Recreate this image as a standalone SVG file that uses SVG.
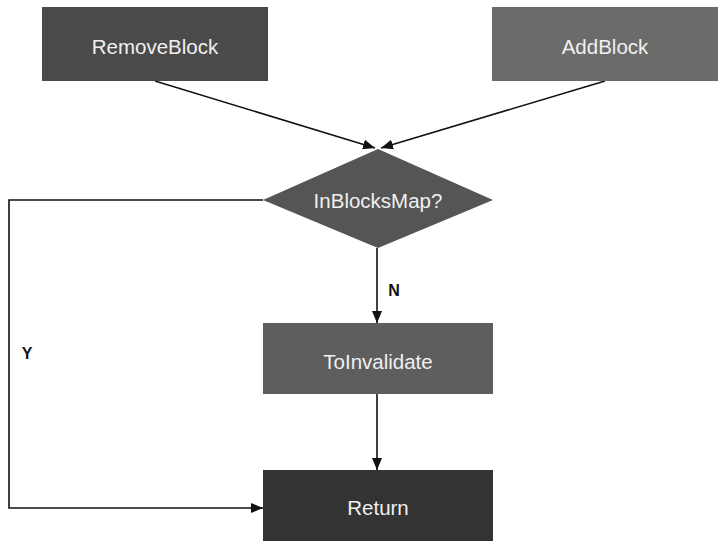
<svg xmlns="http://www.w3.org/2000/svg" width="727" height="550" viewBox="0 0 727 550">
<style>
.lbl{font-family:"Liberation Sans",Arial,sans-serif;font-size:20.5px;fill:#f0f0f0;text-anchor:middle;dominant-baseline:central}
.yn{font-family:"Liberation Sans",Arial,sans-serif;font-size:16px;font-weight:bold;fill:#111;text-anchor:middle;dominant-baseline:central}
.edge{fill:none;stroke:#111;stroke-width:1.6}
</style>
<defs>
<marker id="a" viewBox="0 0 12 10" refX="12" refY="5" markerWidth="12" markerHeight="10" orient="auto" markerUnits="userSpaceOnUse">
<path d="M0,0 L12,5 L0,10 z" fill="#111"/>
</marker>
</defs>
<rect width="727" height="550" fill="#fff"/>
<g id="connectors">
<path class="edge" d="M155,81 L375,148" marker-end="url(#a)"/>
<path class="edge" d="M605,81 L381,148" marker-end="url(#a)"/>
<path class="edge" d="M377,248 L377,323" marker-end="url(#a)"/>
<path class="edge" d="M377,394 L377,470" marker-end="url(#a)"/>
<path class="edge" d="M263,200 L9,200 L9,508 L263,508" marker-end="url(#a)"/>
<text class="yn" x="394" y="290">N</text>
<text class="yn" x="27" y="353">Y</text>
</g>
<g id="RemoveBlock">
<rect x="42" y="7" width="226" height="74" fill="#4a4a4a"/>
<text class="lbl" x="155" y="46">RemoveBlock</text>
</g>
<g id="AddBlock">
<rect x="492" y="7" width="226" height="74" fill="#6b6b6b"/>
<text class="lbl" x="605" y="46">AddBlock</text>
</g>
<g id="InBlocksMap">
<polygon points="378,149 493,200 378,248 263,200" fill="#555"/>
<text class="lbl" x="378" y="200">InBlocksMap?</text>
</g>
<g id="ToInvalidate">
<rect x="263" y="323" width="230" height="71" fill="#5e5e5e"/>
<text class="lbl" x="378" y="361">ToInvalidate</text>
</g>
<g id="Return">
<rect x="263" y="470" width="230" height="71" fill="#333"/>
<text class="lbl" x="378" y="507">Return</text>
</g>
</svg>
